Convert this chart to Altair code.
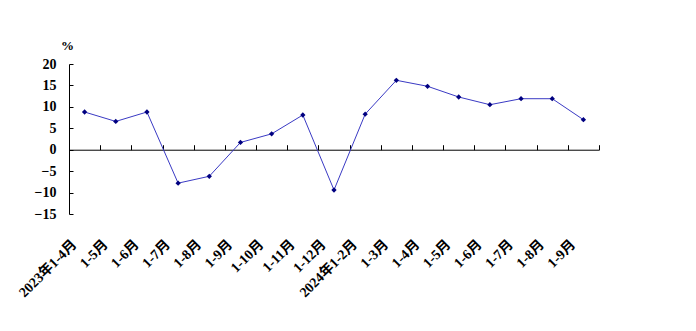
import json
import altair as alt
import pandas as pd

categories = ["2023年1-4月", "1-5月", "1-6月", "1-7月", "1-8月", "1-9月", "1-10月",
              "1-11月", "1-12月", "2024年1-2月", "1-3月", "1-4月", "1-5月", "1-6月",
              "1-7月", "1-8月", "1-9月"]
values = [8.8, 6.6, 8.8, -7.8, -6.2, 1.7, 3.7, 8.1, -9.4, 8.3, 16.2, 14.8, 12.3,
          10.5, 11.9, 11.9, 7.0]
y_ticks = [-15, -10, -5, 0, 5, 10, 15, 20]

df = pd.DataFrame({"idx": list(range(len(categories))), "label": categories, "value": values})

W, H = 530, 150
Y_MIN, Y_MAX = -15, 20
zero_offset = -H * Y_MAX / (Y_MAX - Y_MIN)
FONT = "Liberation Serif, Noto Sans CJK SC"
label_expr = json.dumps(categories, ensure_ascii=False) + "[datum.value]"

xscale = alt.Scale(type="band", paddingInner=0, paddingOuter=0)
yscale = alt.Scale(domain=[Y_MIN, Y_MAX], nice=False, zero=False)

base = alt.Chart(df)

line = base.mark_line(color="#3a3ac4", strokeWidth=1).encode(
    x=alt.X("idx:O", scale=xscale, bandPosition=0.5,
            axis=alt.Axis(orient="bottom", title=None, labelExpr=label_expr, labelAngle=-45,
                          labelFont=FONT, labelFontWeight="bold", labelFontSize=14,
                          labelColor="black", domain=False, ticks=False, labelPadding=23,
                          labelOffset=-15)),
    y=alt.Y("value:Q", scale=yscale,
            axis=alt.Axis(orient="left", values=y_ticks, title="%", titleAngle=0,
                          titleX=-2, titleY=-19, titleAlign="center", titleBaseline="middle",
                          titleFont=FONT, titleFontSize=13, titleFontWeight="bold",
                          titleColor="black", labelFont=FONT, labelFontWeight="bold",
                          labelFontSize=14, labelColor="black", ticks=False,
                          labelPadding=13, domainColor="black", grid=False)),
)

points = base.mark_point(shape="diamond", filled=True, color="#000080", size=28, opacity=1).encode(
    x=alt.X("idx:O", scale=xscale, bandPosition=0.5, axis=None),
    y=alt.Y("value:Q", scale=yscale, axis=None),
)

axes2 = base.mark_point(opacity=0).encode(
    x=alt.X("idx:O", scale=xscale, bandPosition=0.5,
            axis=alt.Axis(orient="top", offset=zero_offset, title=None, labels=False,
                          ticks=True, tickSize=5, tickBand="extent", tickColor="black",
                          domainColor="black", grid=False)),
    y=alt.Y("value:Q", scale=yscale,
            axis=alt.Axis(orient="right", offset=-W, values=y_ticks, title=None,
                          labels=False, ticks=True, tickSize=4, tickColor="black",
                          domain=False, grid=False)),
)

chart = alt.layer(line, points, axes2).resolve_axis(x="independent", y="independent").properties(
    width=W, height=H,
    background="white",
    autosize=alt.AutoSizeParams(type="none"),
    padding={"left": 69, "top": 64, "right": 97, "bottom": 117},
).configure_view(stroke="transparent", strokeWidth=0)

chart.save("out.html", embed_options={"renderer": "svg", "actions": False})
